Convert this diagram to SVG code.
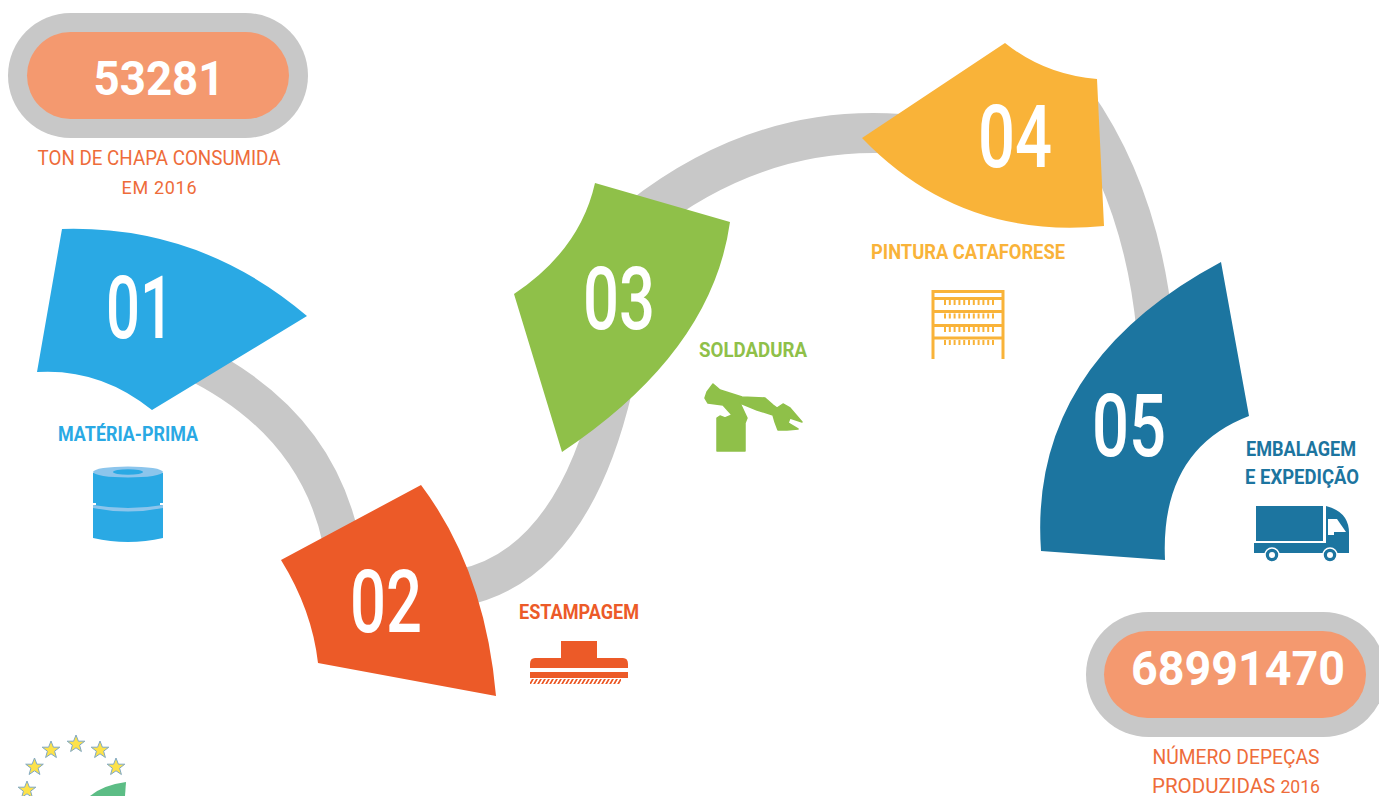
<svg xmlns="http://www.w3.org/2000/svg" width="1379" height="796" viewBox="0 0 1379 796">
<style>
.c{fill:none;stroke:#c8c8c8;stroke-width:37}
.out{fill:#c8c8c8}.in{fill:#f4996f}
text{font-family:"Roboto","Liberation Sans",sans-serif;text-anchor:middle}
.val{font-size:48px;font-weight:700;fill:#fff}
.cap{font-size:21px;fill:#ee6c3a;font-weight:400}
.sm{font-size:18px;font-weight:400}
.num{font-size:88px;fill:#fff;font-weight:500}
.lab{font-size:20px;font-weight:700}
.star{fill:#fde24a;stroke:#7fa8c4;stroke-width:1}
</style>
<defs>
<polygon id="s" class="star" points="0,-9 2.4,-2.8 8.8,-2.8 3.6,1.2 5.4,7.5 0,3.8 -5.4,7.5 -3.6,1.2 -8.8,-2.8 -2.4,-2.8"/>
<pattern id="hatch" width="4" height="6" patternUnits="userSpaceOnUse" patternTransform="skewX(-30)"><rect width="2" height="6" fill="#ec5a28"/></pattern>
</defs>
<g id="connectors">
<path class="c" d="M190,360 Q315,420 341,540"/>
<path class="c" d="M460,588 Q572,566 614,388"/>
<path class="c" style="stroke-width:40" d="M640,218 Q760,124 900,134"/>
<path class="c" d="M1075,100 Q1142,195 1155,330"/>
</g>
<g id="total-chapa">
<rect class="out" x="8" y="13" width="300" height="125" rx="62.5"/>
<rect class="in" x="27" y="32" width="262" height="87" rx="43.5"/>
<text class="val" x="159" y="95" textLength="131" lengthAdjust="spacingAndGlyphs">53281</text>
<text class="cap" x="159" y="165" textLength="243" lengthAdjust="spacingAndGlyphs">TON DE CHAPA CONSUMIDA</text>
<text class="cap" x="159" y="194" textLength="75" lengthAdjust="spacing"><tspan class="sm">EM 2016</tspan></text>
</g>
<g id="step-01">
<path fill="#2aa9e4" d="M62,229Q200,225 307,316L152,410Q100,368 37,372Z"/>
<text class="num" x="140" y="338" textLength="68" lengthAdjust="spacingAndGlyphs">01</text>
<text class="lab" x="128" y="441" fill="#2aa9e4" textLength="140" lengthAdjust="spacingAndGlyphs">MATÉRIA-PRIMA</text>
<path fill="#2aa9e4" d="M93,473Q128,462 163,473V538Q128,546 93,538Z"/>
<ellipse cx="128" cy="472" rx="35" ry="5.500" fill="#8cc5ec"/>
<ellipse cx="128" cy="472" rx="15" ry="2.800" fill="#2aa9e4"/>
<path fill="#8cc5ec" d="M93,505Q128,511 163,505V508Q128,515 93,508Z"/>
<path fill="#fff" d="M92,503H96V505H92ZM160,503H164V505H160Z"/>
</g>
<g id="step-02">
<path fill="#ec5a28" d="M281,560L421,485Q485,570 496,696L318,663Q312,610 281,560Z"/>
<text class="num" x="386" y="632" textLength="72" lengthAdjust="spacingAndGlyphs">02</text>
<text class="lab" x="579" y="619" fill="#ec5a28" textLength="120" lengthAdjust="spacingAndGlyphs">ESTAMPAGEM</text>
<path fill="#ec5a28" d="M561,641H597V658H623Q628,658 628,664V668H530V664Q530,658 535,658H561ZM530,672H628V678H530Z"/>
<rect x="530" y="679" width="91" height="5" fill="url(#hatch)"/>
</g>
<g id="step-03">
<path fill="#8fc049" d="M595,183L730,222Q712,352 562,452L514,294Q580,250 595,183Z"/>
<text class="num" x="619" y="329" textLength="72" lengthAdjust="spacingAndGlyphs">03</text>
<text class="lab" x="753" y="357" fill="#8fc049" textLength="108" lengthAdjust="spacingAndGlyphs">SOLDADURA</text>
<path fill="#8fc049" stroke="#8fc049" stroke-width="1.500" stroke-linejoin="round" d="M713,384L720,390L742,397L765,398L773,405L777,408L783,404L790,408L802,422L790,418L788,423L798,429L787,430L778,430L775,422L773,415L757,410L740,403L747,418L745,423V451H717V418L720,416L725,418L732,415L723,405L708,403L705,398L707,392Z"/>
</g>
<g id="step-04">
<path fill="#f9b339" d="M1005,43Q1045,75 1097,79L1104,226Q960,240 862,138Z"/>
<text class="num" x="1015" y="167" textLength="74" lengthAdjust="spacingAndGlyphs">04</text>
<text class="lab" x="968" y="259" fill="#f9b339" textLength="194" lengthAdjust="spacingAndGlyphs">PINTURA CATAFORESE</text>
<path fill="none" stroke="#f9b339" stroke-width="3" d="M933,359V290M1003,359V290M932,291.500H1004M932,298.500H1004M932,311.500H1004M932,325.500H1004M932,338H1004"/>
<path fill="none" stroke="#f9b339" stroke-width="5" stroke-dasharray="2 2.800" d="M944,302.500H994M944,316H994M944,329.500H994M944,342.500H994"/>
</g>
<g id="step-05">
<path fill="#1c75a0" d="M1221,262L1249,416Q1160,450 1165,560L1041,551Q1028,365 1221,262Z"/>
<text class="num" x="1129" y="456" textLength="74" lengthAdjust="spacingAndGlyphs">05</text>
<text class="lab" x="1301" y="456" fill="#1c75a0" textLength="110" lengthAdjust="spacingAndGlyphs">EMBALAGEM</text>
<text class="lab" x="1302" y="484" fill="#1c75a0" textLength="114" lengthAdjust="spacingAndGlyphs">E EXPEDIÇÃO</text>
<path fill="#1c75a0" d="M1256,506H1323V541H1256ZM1326,506Q1350,512 1349,535V553H1254V543H1326Z"/>
<path fill="#fff" d="M1328,519H1337L1346,532H1328Z"/>
<rect x="1328" y="532" width="6" height="3" fill="#fff"/>
<circle cx="1272" cy="555" r="7" fill="#1c75a0" stroke="#fff" stroke-width="1.500"/><circle cx="1272" cy="555" r="3" fill="#fff"/>
<circle cx="1330" cy="555" r="7" fill="#1c75a0" stroke="#fff" stroke-width="1.500"/><circle cx="1330" cy="555" r="3" fill="#fff"/>
</g>
<g id="total-pecas">
<rect class="out" x="1086" y="612" width="300" height="125" rx="62.5"/>
<rect class="in" x="1104" y="631" width="262" height="87" rx="43.5"/>
<text class="val" x="1238" y="685" textLength="214" lengthAdjust="spacingAndGlyphs">68991470</text>
<text class="cap" x="1236" y="764" textLength="167" lengthAdjust="spacingAndGlyphs">NÚMERO DEPEÇAS</text>
<text class="cap" x="1236" y="793" textLength="168" lengthAdjust="spacingAndGlyphs">PRODUZIDAS <tspan class="sm">2016</tspan></text>
</g>
<g id="logo">
<use href="#s" x="27" y="790"/><use href="#s" x="34.500" y="767"/><use href="#s" x="51" y="750"/><use href="#s" x="76" y="744"/><use href="#s" x="100" y="750"/><use href="#s" x="116" y="767"/>
<path fill="#5cbd85" d="M90,796Q103,785 126,782L125,796Z"/>
</g>
</svg>
